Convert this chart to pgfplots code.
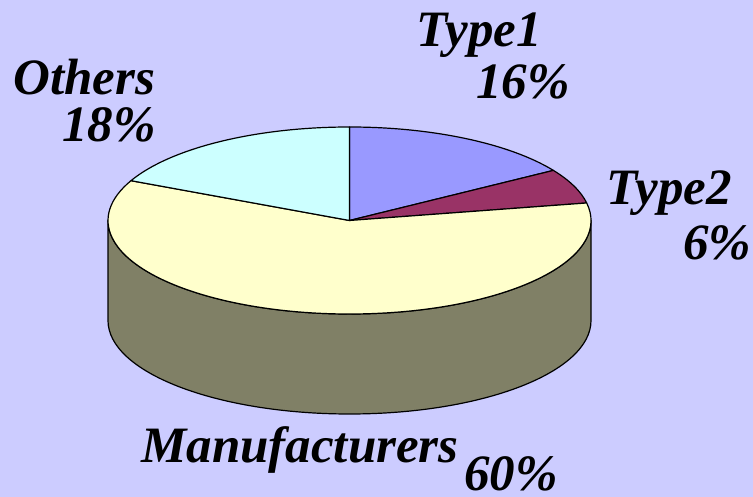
\documentclass[border=0pt]{standalone}
\usepackage{pgfplots}
\usepackage{pgfplotstable}
\pgfplotsset{compat=1.18}
\usepackage{fontspec}
\setmainfont{Liberation Serif}
\definecolor{bgc}{RGB}{204,204,255}
\definecolor{typeone}{RGB}{153,153,255}
\definecolor{typetwo}{RGB}{153,51,102}
\definecolor{manu}{RGB}{255,255,204}
\definecolor{manuside}{RGB}{128,128,102}
\definecolor{others}{RGB}{204,255,255}
\pgfplotstableread{
label value
Type1 16
Type2 6
Manufacturers 60
Others 18
}\piedata
\newcommand{\lbl}{\bfseries\itshape\fontsize{51}{53}\selectfont}
\begin{document}
\begin{tikzpicture}
\pgfplotstablegetelem{0}{value}\of\piedata \let\vA\pgfplotsretval
\pgfplotstablegetelem{1}{value}\of\piedata \let\vB\pgfplotsretval
\pgfplotstablegetelem{2}{value}\of\piedata \let\vC\pgfplotsretval
\pgfplotstablegetelem{3}{value}\of\piedata \let\vD\pgfplotsretval
\pgfmathsetmacro{\aO}{90}
\pgfmathsetmacro{\aA}{\aO-3.6*\vA}
\pgfmathsetmacro{\aB}{\aA-3.6*\vB}
\pgfmathsetmacro{\aC}{\aB-3.6*\vC}
\pgfmathsetmacro{\aD}{\aC-3.6*\vD}
\def\cx{349.5}\def\cy{276.5}
\begin{axis}[scale only axis, width=753pt, height=497pt,
  xmin=0, xmax=753, ymin=0, ymax=497, hide axis, clip=false]
\fill[bgc] (axis cs:0,0) rectangle (axis cs:753,497);
% side of the cylinder (front, Manufacturers)
\filldraw[fill=manuside, draw=black, line width=1.2pt, line join=round]
  (axis cs:108,\cy) -- ++(0,-100pt)
  arc[start angle=180, end angle=360, x radius=241.5pt, y radius=93.5pt]
  -- ++(0,100pt)
  arc[start angle=0, end angle=-180, x radius=241.5pt, y radius=93.5pt] -- cycle;
% top slices
\filldraw[fill=typeone, draw=black, line width=1.2pt, line join=round]
  (axis cs:\cx,\cy) -- ++(\aO:241.5pt and 93.5pt)
  arc[start angle=\aO, end angle=\aA, x radius=241.5pt, y radius=93.5pt] -- cycle;
\filldraw[fill=typetwo, draw=black, line width=1.2pt, line join=round]
  (axis cs:\cx,\cy) -- ++(\aA:241.5pt and 93.5pt)
  arc[start angle=\aA, end angle=\aB, x radius=241.5pt, y radius=93.5pt] -- cycle;
\filldraw[fill=manu, draw=black, line width=1.2pt, line join=round]
  (axis cs:\cx,\cy) -- ++(\aB:241.5pt and 93.5pt)
  arc[start angle=\aB, end angle=\aC, x radius=241.5pt, y radius=93.5pt] -- cycle;
\filldraw[fill=others, draw=black, line width=1.2pt, line join=round]
  (axis cs:\cx,\cy) -- ++(\aC:241.5pt and 93.5pt)
  arc[start angle=\aC, end angle=\aD, x radius=241.5pt, y radius=93.5pt] -- cycle;
% labels
\node[anchor=base west, inner sep=0pt] at (axis cs:416,450) {\lbl Type1};
\node[anchor=base west, inner sep=0pt] at (axis cs:476,398) {\lbl \vA\%};
\node[anchor=base west, inner sep=0pt] at (axis cs:606,292) {\lbl Type2};
\node[anchor=base west, inner sep=0pt] at (axis cs:683,237) {\lbl \vB\%};
\node[anchor=base west, inner sep=0pt] at (axis cs:13,402) {\lbl Others};
\node[anchor=base west, inner sep=0pt] at (axis cs:62,355) {\lbl \vD\%};
\node[anchor=base west, inner sep=0pt] at (axis cs:141,34) {\lbl Manufacturers};
\node[anchor=base west, inner sep=0pt] at (axis cs:464,6) {\lbl \vC\%};
\end{axis}
\pgfresetboundingbox
\useasboundingbox (0,0) rectangle (753pt,497pt);
\end{tikzpicture}
\end{document}
